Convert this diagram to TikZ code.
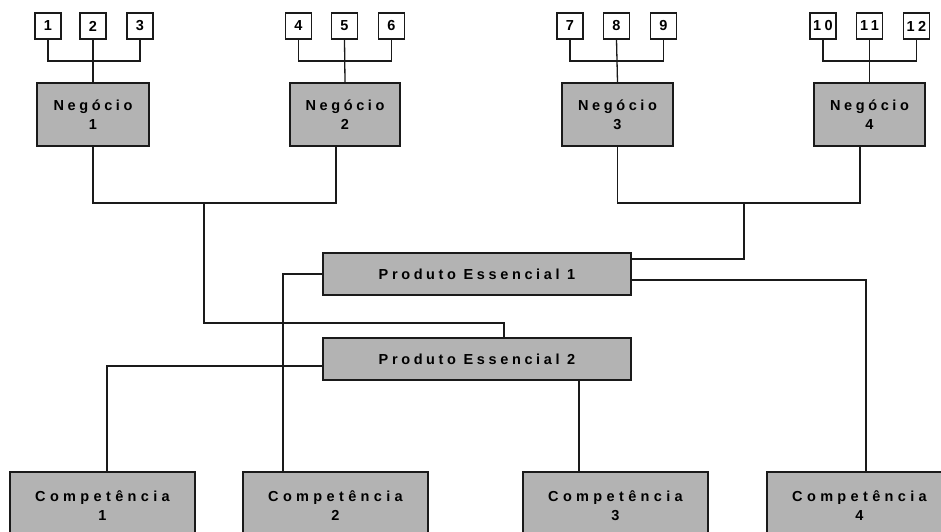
\documentclass[tikz,border=0pt]{standalone}
\usepackage{fontspec}
\setmainfont{Liberation Sans}
\newfontfamily\lsfont{Liberation Sans}[UprightFont=* Bold, LetterSpace=25]
\newfontfamily\lsfontw{Liberation Sans}[UprightFont=* Bold, LetterSpace=30]
\newfontfamily\lsfontn{Liberation Sans}[UprightFont=* Bold, LetterSpace=24]
\usetikzlibrary{calc}
\definecolor{boxgray}{HTML}{B3B3B3}
\definecolor{ln}{HTML}{1A1A1A}
\tikzset{
  conn/.style={draw=ln, line width=1.3pt},
  gbox/.style={draw=ln, line width=1.6pt, fill=boxgray, inner sep=0pt, align=center,
    font=\lsfont\fontsize{14.5}{18.6}\selectfont},
  cbox/.style={gbox, font=\lsfontw\fontsize{14.5}{18.6}\selectfont},
  nbox/.style={draw=ln, line width=1.3pt, fill=white, minimum width=26pt, minimum height=26pt,
    inner sep=0pt, font=\lsfontn\fontsize{14.5}{15}\selectfont}
}
\begin{document}
\begin{tikzpicture}[x=1pt, y=-1pt]
\useasboundingbox (0,0) rectangle (941,531);
\clip (0,0) rectangle (941,531);
% small numbered boxes
\node[nbox] (b1) at (48,26) {1};
\node[nbox] (b2) at (93,26) {2};
\node[nbox] (b3) at (140,26) {3};
\node[nbox] (b4) at (298.5,26) {4};
\node[nbox] (b5) at (344.5,26) {5};
\node[nbox] (b6) at (391.5,26) {6};
\node[nbox] (b7) at (570,26) {7};
\node[nbox] (b8) at (616.5,26) {8};
\node[nbox] (b9) at (663.5,26) {9};
\node[nbox] (b10) at (823,26) {10};
\node[nbox] (b11) at (869.5,26) {11};
\node[nbox] (b12) at (916.5,26) {12};
% business units
\node[gbox, minimum width=112pt, minimum height=63pt] (n1) at (93,114.5) {Negócio\\1};
\node[gbox, minimum width=110pt, minimum height=63pt] (n2) at (345,114.5) {Negócio\\2};
\node[gbox, minimum width=111pt, minimum height=63pt] (n3) at (617.5,114.5) {Negócio\\3};
\node[gbox, minimum width=111pt, minimum height=63pt] (n4) at (869.5,114.5) {Negócio\\4};
% core products
\node[gbox, minimum width=308pt, minimum height=42pt] (pe1) at (477,274) {Produto Essencial 1};
\node[gbox, minimum width=308pt, minimum height=42pt] (pe2) at (477,359) {Produto Essencial 2};
% competences
\node[cbox, minimum width=185pt, minimum height=67pt] (c1) at (102.5,505.5) {Competência\\1};
\node[cbox, minimum width=185pt, minimum height=67pt] (c2) at (335.5,505.5) {Competência\\2};
\node[cbox, minimum width=185pt, minimum height=67pt] (c3) at (615.5,505.5) {Competência\\3};
\node[cbox, minimum width=185pt, minimum height=67pt] (c4) at (859.5,505.5) {Competência\\4};
% helper coordinates
\coordinate (r1) at (0,61);
\coordinate (j1) at (204,203);
\coordinate (j2) at (744,203);
\coordinate (m1) at (504,323);
\coordinate (n2b) at ($(n2.south)+(-9,0)$);
\coordinate (n4b) at ($(n4.south)+(-9.5,0)$);
\coordinate (c1t) at ($(c1.north)+(4.5,0)$);
\coordinate (c2t) at ($(c2.north)+(-52.5,0)$);
\coordinate (c3t) at ($(c3.north)+(-36.5,0)$);
\coordinate (c4t) at ($(c4.north)+(6.5,0)$);
% trios to business units
\draw[conn] (b1.south) |- (b3.south |- r1) -- (b3.south);
\draw[conn] (b2.south) -- (n1.north);
\draw[conn] (b4.south) |- (b6.south |- r1) -- (b6.south);
\draw[conn] (b5.south) -- (n2.north);
\draw[conn] (b7.south) |- (b9.south |- r1) -- (b9.south);
\draw[conn] (b8.south) -- (n3.north);
\draw[conn] (b10.south) |- (b12.south |- r1) -- (b12.south);
\draw[conn] (b11.south) -- (n4.north);
% business units to core products
\draw[conn] (n1.south) |- (n2b |- j1) -- (n2b);
\draw[conn] (j1) |- (m1) -- (m1 |- pe2.north);
\draw[conn] (n3.south) |- (n4b |- j2) -- (n4b);
\draw[conn] (j2) |- ($(pe1.east)+(0,-15)$);
% core products to competences
\draw[conn] ($(pe1.east)+(0,6)$) -| (c4t);
\draw[conn] (pe1.west) -| (c2t);
\draw[conn] ($(pe2.west)+(0,7)$) -| (c1t);
\draw[conn] (pe2.south -| c3t) -- (c3t);
\end{tikzpicture}
\end{document}
